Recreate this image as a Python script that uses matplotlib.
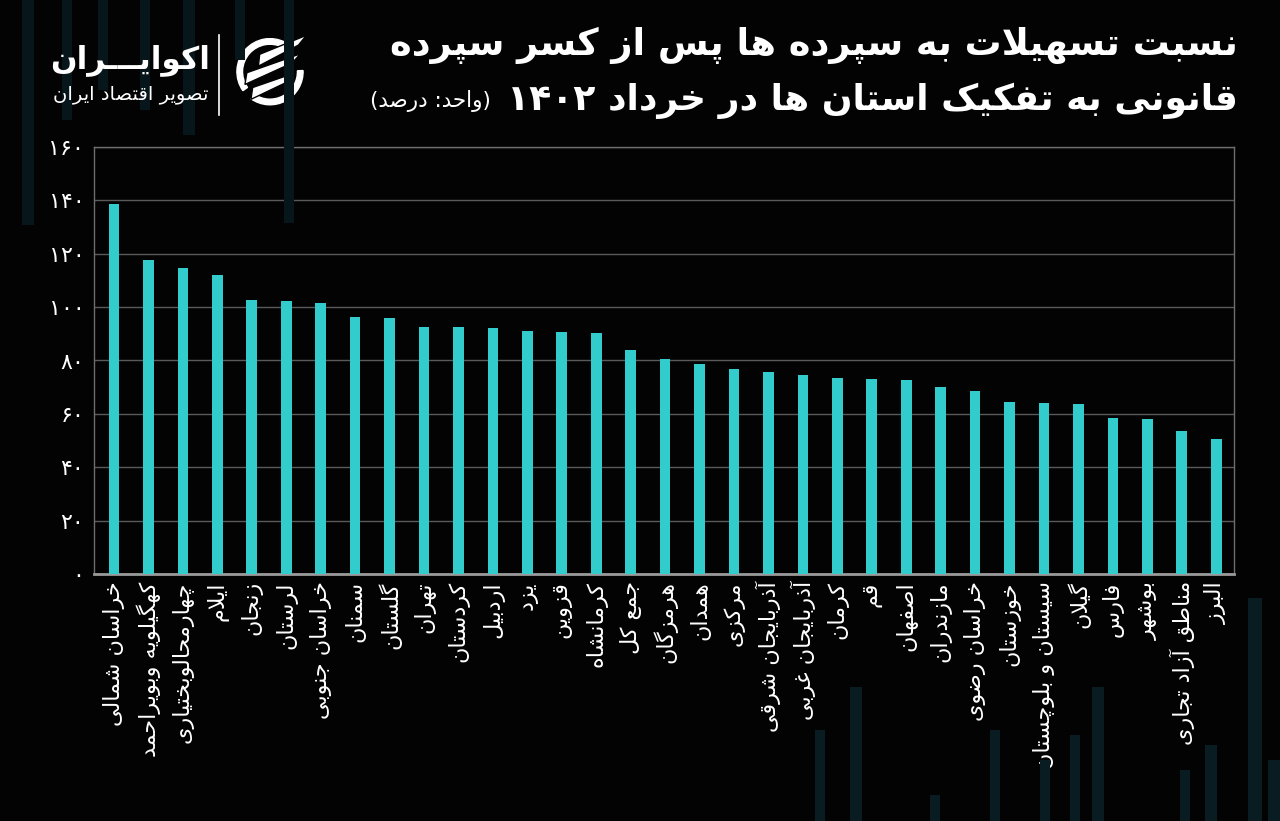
import re
import matplotlib
matplotlib.use("Agg")
import matplotlib.pyplot as plt
from matplotlib.patches import Rectangle, Wedge, Polygon
import numpy as np

# ---------------- data ----------------
provinces = ["خراسان شمالی", "کهگیلویه وبویراحمد", "چهارمحالوبختیاری", "ایلام", "زنجان",
             "لرستان", "خراسان جنوبی", "سمنان", "گلستان", "تهران", "کردستان", "اردبیل",
             "یزد", "قزوین", "کرمانشاه", "جمع کل", "هرمزگان", "همدان", "مرکزی",
             "آذربایجان شرقی", "آذربایجان غربی", "کرمان", "قم", "اصفهان", "مازندران",
             "خراسان رضوی", "خوزستان", "سیستان و بلوچستان", "گیلان", "فارس", "بوشهر",
             "مناطق آزاد تجاری", "البرز"]
values = [138.4, 117.7, 114.6, 112.1, 102.6, 102.3, 101.6, 96.4, 95.9, 92.5, 92.4, 92.2,
          90.9, 90.8, 90.3, 84.0, 80.6, 78.7, 76.9, 75.6, 74.5, 73.6, 73.0, 72.8, 70.2,
          68.6, 64.5, 64.2, 63.7, 58.5, 58.1, 53.6, 50.5]
yticks = [0, 20, 40, 60, 80, 100, 120, 140, 160]
title1 = "نسبت تسهیلات به سپرده ها پس از کسر سپرده"
title2 = "قانونی به تفکیک استان ها در خرداد ۱۴۰۲"
unit_text = "(واحد: درصد)"
logo_name = "اکوایـــران"
logo_sub = "تصویر اقتصاد ایران"

# ---------------- minimal Persian shaping ----------------
FORMS = {
    0x0622: (0xFE81, 0xFE82), 0x0627: (0xFE8D, 0xFE8E),
    0x0628: (0xFE8F, 0xFE90, 0xFE91, 0xFE92), 0x062A: (0xFE95, 0xFE96, 0xFE97, 0xFE98),
    0x062B: (0xFE99, 0xFE9A, 0xFE9B, 0xFE9C), 0x062C: (0xFE9D, 0xFE9E, 0xFE9F, 0xFEA0),
    0x062D: (0xFEA1, 0xFEA2, 0xFEA3, 0xFEA4), 0x062E: (0xFEA5, 0xFEA6, 0xFEA7, 0xFEA8),
    0x062F: (0xFEA9, 0xFEAA), 0x0630: (0xFEAB, 0xFEAC), 0x0631: (0xFEAD, 0xFEAE),
    0x0632: (0xFEAF, 0xFEB0), 0x0698: (0xFB8A, 0xFB8B),
    0x0633: (0xFEB1, 0xFEB2, 0xFEB3, 0xFEB4), 0x0634: (0xFEB5, 0xFEB6, 0xFEB7, 0xFEB8),
    0x0635: (0xFEB9, 0xFEBA, 0xFEBB, 0xFEBC), 0x0636: (0xFEBD, 0xFEBE, 0xFEBF, 0xFEC0),
    0x0637: (0xFEC1, 0xFEC2, 0xFEC3, 0xFEC4), 0x0638: (0xFEC5, 0xFEC6, 0xFEC7, 0xFEC8),
    0x0639: (0xFEC9, 0xFECA, 0xFECB, 0xFECC), 0x063A: (0xFECD, 0xFECE, 0xFECF, 0xFED0),
    0x0641: (0xFED1, 0xFED2, 0xFED3, 0xFED4), 0x0642: (0xFED5, 0xFED6, 0xFED7, 0xFED8),
    0x0643: (0xFED9, 0xFEDA, 0xFEDB, 0xFEDC), 0x0644: (0xFEDD, 0xFEDE, 0xFEDF, 0xFEE0),
    0x0645: (0xFEE1, 0xFEE2, 0xFEE3, 0xFEE4), 0x0646: (0xFEE5, 0xFEE6, 0xFEE7, 0xFEE8),
    0x0647: (0xFEE9, 0xFEEA, 0xFEEB, 0xFEEC), 0x0648: (0xFEED, 0xFEEE),
    0x064A: (0xFEF1, 0xFEF2, 0xFEF3, 0xFEF4), 0x06CC: (0xFBFC, 0xFBFD, 0xFBFE, 0xFBFF),
    0x06A9: (0xFB8E, 0xFB8F, 0xFB90, 0xFB91), 0x06AF: (0xFB92, 0xFB93, 0xFB94, 0xFB95),
    0x067E: (0xFB56, 0xFB57, 0xFB58, 0xFB59), 0x0686: (0xFB7A, 0xFB7B, 0xFB7C, 0xFB7D),
    0x0640: (0x0640, 0x0640, 0x0640, 0x0640),
}
LAMALEF = {0x0627: (0xFEFB, 0xFEFC), 0x0622: (0xFEF5, 0xFEF6)}


def is_dual(ch):
    return ch is not None and ord(ch) in FORMS and len(FORMS[ord(ch)]) == 4


def joins(ch):
    return ch is not None and ord(ch) in FORMS


def shape(s):
    out = []
    n = len(s)
    i = 0
    while i < n:
        c = s[i]
        if not joins(c):
            out.append(c)
            i += 1
            continue
        prev = s[i - 1] if i > 0 else None
        nxt = s[i + 1] if i + 1 < n else None
        jp = is_dual(prev)
        if ord(c) == 0x0644 and nxt is not None and ord(nxt) in LAMALEF:
            out.append(chr(LAMALEF[ord(nxt)][1 if jp else 0]))
            i += 2
            continue
        f = FORMS[ord(c)]
        jn = len(f) == 4 and joins(nxt)
        if jp and jn:
            idx = 3
        elif jn:
            idx = 2
        elif jp:
            idx = 1
        else:
            idx = 0
        out.append(chr(f[idx]))
        i += 1
    return "".join(out)


MIRROR = {"(": ")", ")": "("}


def fa(s):
    sh = shape(s)
    toks = re.findall(r"[0-9\u06F0-\u06F9]+|.", sh)
    toks = [MIRROR.get(t, t) for t in toks[::-1]]
    return "".join(toks)


# ---------------- figure ----------------
W, H = 1280, 821
BG = "#030303"
BAR = "#33cccc"
plt.rcParams["font.family"] = ["DejaVu Sans"]

fig = plt.figure(figsize=(W / 100, H / 100), dpi=100, facecolor=BG)


def fx(px):
    return px / W


def fy(py):
    return 1 - py / H


# faint decorative background stripes
deco_top = [(22, 0, 12, 225), (62, 0, 10, 120), (98, 0, 10, 90), (140, 0, 10, 110),
            (183, 0, 12, 135), (235, 0, 10, 60), (284, 0, 10, 223)]
deco_bot = [(815, 730, 10, 91), (850, 687, 12, 134), (930, 795, 10, 26), (990, 730, 10, 91),
            (1040, 760, 10, 61), (1070, 735, 10, 86), (1092, 687, 12, 134), (1180, 770, 10, 51),
            (1205, 745, 12, 76), (1248, 598, 14, 223), (1268, 760, 12, 61)]
for group, col in ((deco_top, "#06161a"), (deco_bot, "#081c21")):
    for (x0, y0, w, h) in group:
        fig.patches.append(Rectangle((fx(x0), fy(y0 + h)), w / W, h / H,
                                     transform=fig.transFigure,
                                     facecolor=col, edgecolor="none", zorder=0))

ax = fig.add_axes([fx(94), fy(574.3), fx(1233.5) - fx(94), fy(146.7) - fy(574.3)])
ax.set_facecolor("none")
x = np.arange(len(provinces))
ax.bar(x, values, width=0.31, color=BAR, zorder=3)
ax.set_xlim(-0.58, len(provinces) - 0.5)
ax.set_ylim(0, 160)
ax.set_yticks(yticks)
digits = str.maketrans("0123456789", "۰۱۲۳۴۵۶۷۸۹")
ax.set_yticklabels([str(v).translate(digits) for v in yticks])
ax.set_xticks(x)
ax.set_xticklabels([fa(p) for p in provinces], rotation=90, va="top", ha="center")
ax.tick_params(axis="both", length=0, colors="white")
ax.tick_params(axis="y", labelsize=16, pad=7)
ax.tick_params(axis="x", labelsize=16, pad=5)
ax.grid(axis="y", color="#5a5a5a", linewidth=1, zorder=0)
for side in ["left", "right", "top"]:
    ax.spines[side].set_color("#6e6e6e")
    ax.spines[side].set_linewidth(1)
ax.spines["bottom"].set_color("#9a9a9a")
ax.spines["bottom"].set_linewidth(2)

# titles
t1 = fig.text(fx(1238), fy(45), fa(title1), ha="right", va="center", color="white",
              fontsize=26.5, fontweight="bold")
t2 = fig.text(fx(1238), fy(101), fa(title2), ha="right", va="center", color="white",
              fontsize=26, fontweight="bold")
fig.canvas.draw()
bb = t2.get_window_extent()
fig.text((bb.x0 - 16) / W, fy(101), fa(unit_text), ha="right", va="center", color="white",
         fontsize=15.5)

# logo
fig.text(fx(210), fy(60), fa(logo_name), ha="right", va="center", color="white",
         fontsize=22.5, fontweight="bold")
fig.text(fx(208), fy(94), fa(logo_sub), ha="right", va="center", color="white", fontsize=14)
fig.lines.append(plt.Line2D([fx(219), fx(219)], [fy(35), fy(115)], transform=fig.transFigure,
                            color="white", linewidth=1.2))
lax = fig.add_axes([fx(227), fy(114.7), 86 / W, 86 / H])
lax.set_xlim(-1.3, 1.3)
lax.set_ylim(-1.3, 1.3)
lax.set_aspect("equal")
lax.axis("off")
lax.add_patch(Wedge((0, 0), 1.0, 62, 215, width=0.17, color="white"))
lax.add_patch(Wedge((0, 0), 1.0, 235, 362, width=0.17, color="white"))
stripes = [((-0.42, 0.30), (1.10, 1.10)), ((-0.82, -0.25), (0.92, 0.54)),
           ((-0.64, -0.70), (0.74, -0.04))]
for s, e in stripes:
    s = np.array(s)
    e = np.array(e)
    d = (e - s) / np.linalg.norm(e - s)
    n = np.array([-d[1], d[0]])
    w = 0.15
    poly = [s - n * w, e - n * w - d * 0.35, e, s + n * w + d * 0.2]
    lax.add_patch(Polygon(poly, closed=True, facecolor="white", edgecolor=BG, linewidth=1.0))

fig.savefig("out.png", dpi=100, facecolor=BG)
